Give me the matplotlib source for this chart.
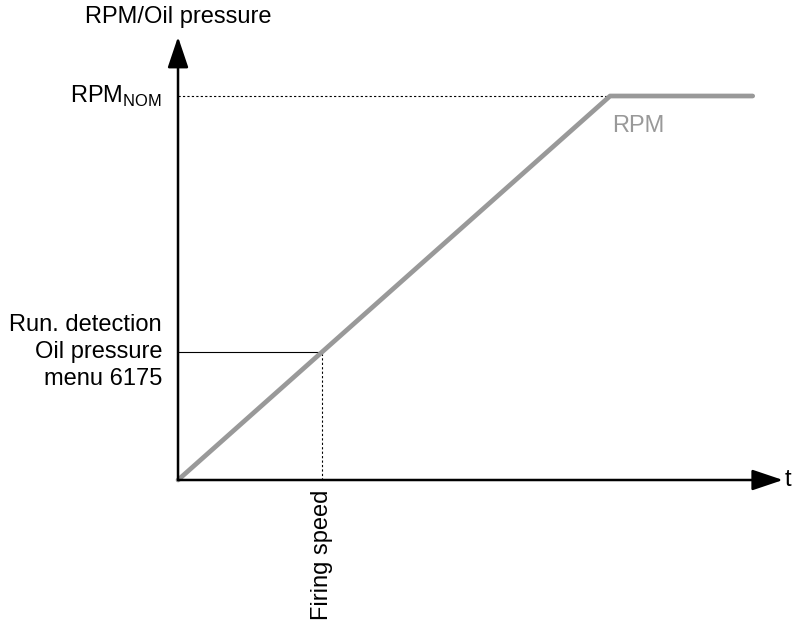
import matplotlib
matplotlib.use("Agg")
import matplotlib.pyplot as plt

plt.rcParams['font.family'] = ['Liberation Sans', 'DejaVu Sans']
plt.rcParams['mathtext.fontset'] = 'custom'
plt.rcParams['mathtext.rm'] = 'Liberation Sans'

# rpm curve (t, rpm in % of nominal)
t_rpm = [0, 10, 13.3]
rpm = [0, 100, 100]
t_fire = 3.33
rpm_fire = 33.3
rpm_nom = 100
t_max = 14.0
y_max = 115.4

grey = '#999999'

fig = plt.figure(figsize=(7.92, 6.27), dpi=100)
ax = fig.add_axes([0, 0, 1, 1])
ax.set_xlim(-4.12, 14.21)
ax.set_ylim(-38.28, 125)
ax.axis('off')

# axes with arrows
arrow = dict(arrowstyle='-|>,head_length=0.95,head_width=0.32', mutation_scale=20,
             lw=1.8, color='k', shrinkA=0, shrinkB=0)
ax.annotate('', xy=(0, y_max), xytext=(0, 0), arrowprops=arrow)
ax.annotate('', xy=(t_max, 0), xytext=(0, 0), arrowprops=arrow)

# helper lines
ax.plot([0, t_rpm[1]], [rpm_nom, rpm_nom], color='k', lw=0.8, ls=(0, (2, 2)))
ax.plot([t_fire, t_fire], [0, rpm_fire], color='k', lw=0.8, ls=(0, (2, 2)))
ax.plot([0, t_fire], [rpm_fire, rpm_fire], color='k', lw=0.8)

ax.plot(t_rpm, rpm, color=grey, lw=3.4, solid_capstyle='round')

fs = 17
ax.text(0, 120.5, 'RPM/Oil pressure', fontsize=fs, ha='center', va='center')
ax.text(-0.37, rpm_nom, r'RPM$_{\mathrm{NOM}}$', fontsize=fs, ha='right', va='center')
ax.text(-0.37, rpm_fire, 'Run. detection\nOil pressure\nmenu 6175', fontsize=fs,
        ha='right', va='center', linespacing=1.3)
ax.text(10.05, 95, 'RPM', fontsize=fs, color=grey, ha='left', va='top')
ax.text(t_max + 0.05, 0, 't', fontsize=fs, ha='left', va='center')
ax.text(t_fire, -2.5, 'Firing speed', fontsize=fs, rotation=90, ha='center', va='top')

fig.savefig('out.png', dpi=100)
